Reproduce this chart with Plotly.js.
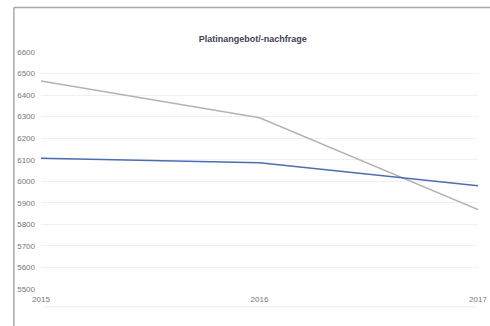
<!DOCTYPE html>
<html>
<head>
<meta charset="utf-8">
<script src="https://cdn.plot.ly/plotly-3.0.1.min.js"></script>
<style>
html,body{margin:0;padding:0;background:#fff;overflow:hidden;}
#chart{width:490px;height:326px;overflow:hidden;}
</style>
</head>
<body>
<div id="chart"></div>
<script>
const years = [2015, 2016, 2017];
const angebot = [6107, 6086, 5979];
const nachfrage = [6465, 6295, 5869];
const yTicks = [5500, 5600, 5700, 5800, 5900, 6000, 6100, 6200, 6300, 6400, 6500, 6600];
const titleText = 'Platinangebot/-nachfrage';

const traces = [
  {x: years, y: nachfrage, type: 'scatter', mode: 'lines', name: 'Nachfrage',
   line: {color: '#b3b3b3', width: 1.5}, hoverinfo: 'none'},
  {x: years, y: angebot, type: 'scatter', mode: 'lines', name: 'Angebot',
   line: {color: '#4b6db5', width: 1.5}, hoverinfo: 'none'}
];

const layout = {
  width: 490, height: 326,
  margin: {l: 41, r: 12, t: 52, b: 37},
  paper_bgcolor: '#fff', plot_bgcolor: '#fff',
  showlegend: false,
  title: {text: '<b>' + titleText + '</b>', x: 0.516, xanchor: 'center', y: 0.88, yanchor: 'middle',
          font: {family: 'Liberation Sans, Arial, sans-serif', size: 9, color: '#3d4257'}},
  xaxis: {range: [2015, 2017], tickvals: years, ticktext: years.map(String),
          showgrid: false, zeroline: false, showline: false, ticks: '',
          ticklabelstandoff: 4,
          tickfont: {family: 'Liberation Sans, Arial, sans-serif', size: 8, color: '#777'}},
  yaxis: {range: [5500, 6600], tickvals: yTicks, ticktext: yTicks.map(String),
          showgrid: true, gridcolor: '#f0f0f0', gridwidth: 1, zeroline: false, showline: false, ticks: '',
          ticklabelstandoff: 5,
          tickfont: {family: 'Liberation Sans, Arial, sans-serif', size: 8, color: '#777'}},
  shapes: [
    {type: 'line', xref: 'paper', yref: 'paper', x0: -0.062, x1: 1.0275, y0: 1.188, y1: 1.188,
     line: {color: '#a8a8a8', width: 1.5}},
    {type: 'line', xref: 'paper', yref: 'paper', x0: -0.062, x1: -0.062, y0: 1.188, y1: -0.169,
     line: {color: '#a8a8a8', width: 1.5}},
    {type: 'line', xref: 'paper', yref: 'paper', x0: 0.002, x1: 0.995, y0: -0.075, y1: -0.075,
     line: {color: '#f0f0f0', width: 1}}
  ]
};

Plotly.newPlot('chart', traces, layout, {staticPlot: true, displayModeBar: false});
</script>
</body>
</html>
